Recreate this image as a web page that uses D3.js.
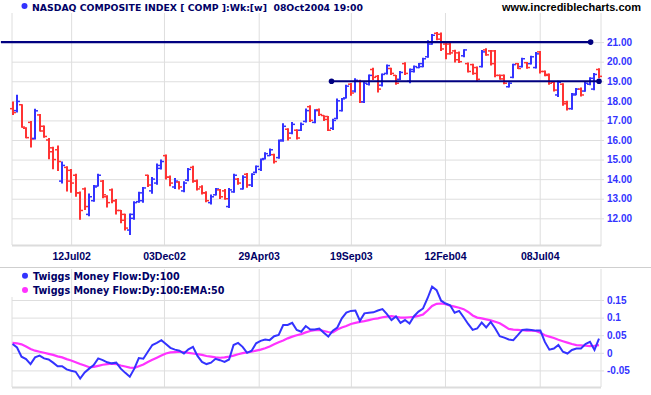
<!DOCTYPE html>
<html lang="en">
<head>
    <meta charset="UTF-8">
    <title>NASDAQ Composite weekly</title>
    <script src="https://cdn.jsdelivr.net/npm/d3@7"></script>
    <style>
        html, body {
            margin: 0;
            background: #fff;
        }

        svg text {
            font-family: "Liberation Sans", Arial, sans-serif;
            font-weight: bold;
        }

        svg text.wide {
            font-family: "DejaVu Sans", Verdana, sans-serif;
        }

        .axis path {
            display: none;
        }

        .axis line {
            stroke: #dedede;
        }
    </style>
</head>
<body>
<svg id="chart" width="651" height="395"></svg>

<script>

    // weekly bars, one every friday starting here
    var firstWeek = "2002-04-12";

    var opens = [
        17.6, 17.5, 17.8, 16.6, 16.9, 16.08, 17.28, 16.7, 16.0, 15.6,
        15.5, 13.9, 14.6, 14.45, 14.2, 13.3, 13.5, 12.2, 12.9, 13.65,
        13.9, 13.1, 13.45, 12.9, 12.4, 12.2, 11.4, 12.0, 12.85, 12.9,
        14.2, 13.4, 13.8, 14.55, 15.2, 14.1, 13.6, 13.85, 13.4, 13.95,
        14.6, 13.9, 13.6, 13.3, 12.8, 13.2, 13.45, 13.4, 12.6, 13.35,
        14.0, 13.5, 14.25, 13.7, 14.35, 14.5, 15.05, 15.2, 15.25, 15.1,
        16.0, 16.55, 16.35, 16.5, 16.5, 16.95, 17.7, 16.9, 17.55, 17.25,
        17.2, 16.6, 17.1, 17.5, 18.15, 18.85, 18.5, 19.0, 17.95, 18.85,
        19.6, 19.25, 18.8, 19.4, 19.65, 19.3, 19.1, 19.9, 19.0, 19.5,
        19.7, 19.75, 20.25, 20.9, 21.45, 21.4, 20.9, 20.9, 20.55, 20.45,
        20.3, 19.9, 19.85, 19.7, 19.75, 20.6, 20.55, 20.55, 19.3, 19.3,
        18.72, 19.2, 19.9, 19.75, 19.95, 19.9, 19.7, 20.5, 19.5, 19.35,
        18.95, 18.3, 18.85, 17.95, 17.6, 18.3, 18.6, 18.5, 18.85, 18.6,
        19.6
    ];
    var highs = [
        17.97, 18.31, 17.83, 16.65, 16.97, 17.59, 17.33, 16.74, 16.1, 15.65,
        15.72, 14.9, 14.66, 14.52, 14.27, 13.37, 13.57, 13.27, 13.7, 14.28,
        13.95, 13.18, 13.52, 12.98, 12.43, 12.23, 12.25, 12.87, 13.35, 13.6,
        14.23, 14.11, 14.8, 15.0, 15.26, 14.18, 14.06, 13.89, 13.89, 14.57,
        14.69, 13.98, 13.69, 13.38, 13.21, 13.55, 13.5, 13.5, 13.55, 14.28,
        14.06, 14.2, 14.32, 14.3, 14.7, 15.06, 15.38, 15.56, 15.3, 16.03,
        16.85, 16.6, 16.92, 16.55, 16.89, 17.61, 17.78, 17.57, 17.61, 17.27,
        17.23, 17.09, 18.12, 18.14, 18.82, 18.91, 19.15, 19.08, 18.98, 19.35,
        19.69, 19.32, 19.4, 19.86, 19.69, 19.32, 19.52, 19.97, 19.65, 19.8,
        19.93, 20.2, 21.1, 21.42, 21.52, 21.49, 20.95, 20.95, 20.61, 20.52,
        20.64, 19.96, 19.9, 19.76, 20.6, 20.68, 20.6, 20.6, 19.35, 19.35,
        18.95, 19.9, 19.93, 20.2, 19.98, 20.3, 20.5, 20.55, 19.55, 19.4,
        19.0, 19.03, 18.9, 18.0, 18.4, 18.65, 18.68, 18.97, 19.2, 19.42,
        19.67
    ];
    var lows = [
        17.28, 17.4, 16.63, 16.09, 15.61, 16.03, 16.43, 16.12, 15.02, 14.5,
        14.42, 13.78, 13.37, 13.3, 13.1, 11.93, 12.42, 12.1, 12.85, 13.63,
        13.03, 12.55, 12.77, 12.2, 11.75, 11.38, 11.15, 11.93, 12.79, 12.79,
        13.6, 13.26, 13.72, 14.49, 13.98, 13.64, 13.5, 13.47, 13.33, 13.89,
        13.81, 13.42, 13.21, 12.82, 12.7, 13.16, 12.99, 12.95, 12.53, 13.3,
        13.72, 13.47, 13.56, 13.6, 14.3, 14.41, 15.0, 15.18, 14.8, 15.04,
        15.91, 15.98, 16.29, 16.03, 16.46, 16.89, 16.92, 16.85, 17.23, 16.97,
        16.46, 16.51, 17.06, 17.45, 18.12, 18.26, 18.43, 17.89, 17.89, 18.78,
        19.07, 18.43, 18.73, 19.35, 19.32, 18.82, 19.07, 19.32, 18.9, 19.45,
        19.67, 19.72, 20.2, 20.86, 21.1, 20.55, 20.13, 20.35, 19.96, 19.93,
        20.23, 19.45, 19.33, 18.99, 19.7, 20.3, 19.8, 19.2, 19.08, 18.85,
        18.68, 19.15, 19.62, 19.7, 19.64, 19.85, 19.65, 19.4, 19.25, 18.82,
        18.48, 18.2, 17.75, 17.51, 17.55, 18.28, 18.22, 18.46, 18.8, 18.54,
        19.15
    ];
    var closes = [
        17.4, 17.97, 16.66, 16.12, 16.05, 17.49, 16.46, 16.18, 15.4, 15.0,
        14.9, 14.7, 13.9, 13.8, 13.3, 12.4, 12.6, 13.1, 13.6, 14.2,
        13.2, 12.8, 12.9, 12.4, 11.9, 11.5, 12.2, 12.8, 13.3, 13.55,
        13.7, 14.0, 14.7, 14.9, 14.1, 13.8, 13.9, 13.6, 13.8, 14.5,
        13.9, 13.5, 13.3, 12.9, 13.1, 13.5, 13.1, 13.0, 13.45, 14.2,
        13.8, 14.1, 13.7, 14.25, 14.65, 15.0, 15.3, 15.5, 14.9, 15.95,
        16.7, 16.1, 16.8, 16.1, 16.8, 17.5, 17.0, 17.5, 17.3, 17.05,
        16.5, 17.0, 18.0, 18.1, 18.75, 18.4, 19.05, 17.95, 18.9, 19.3,
        19.2, 18.6, 19.35, 19.8, 19.4, 18.9, 19.45, 19.4, 19.6, 19.75,
        19.9, 20.15, 21.0, 21.35, 21.15, 20.65, 20.4, 20.45, 20.1, 20.0,
        20.6, 19.5, 19.4, 19.1, 20.5, 20.35, 19.9, 19.3, 19.12, 18.9,
        18.9, 19.85, 19.65, 20.15, 19.7, 20.25, 20.4, 19.5, 19.3, 18.9,
        18.55, 18.95, 17.85, 17.6, 18.35, 18.6, 18.3, 18.9, 19.15, 19.35,
        19.25
    ];

    // Twiggs money flow (read once per week) and its 50 EMA
    var moneyFlow = [
        0.025, 0.015, -0.011, -0.018, -0.032, -0.013, -0.008, -0.016, -0.019, -0.028,
        -0.038, -0.038, -0.047, -0.051, -0.054, -0.073, -0.056, -0.045, -0.035, -0.016,
        -0.021, -0.027, -0.030, -0.028, -0.045, -0.057, -0.068, -0.045, -0.015, -0.017,
        0.003, 0.022, 0.028, 0.036, 0.025, 0.014, 0.009, 0.006, -0.002, 0.010,
        0.017, -0.009, -0.026, -0.032, -0.028, -0.017, -0.021, -0.026, -0.019, 0.022,
        0.028, 0.017, 0.000, 0.006, 0.027, 0.034, 0.038, 0.036, 0.047, 0.051,
        0.079, 0.079, 0.085, 0.065, 0.060, 0.076, 0.066, 0.066, 0.069, 0.057,
        0.046, 0.063, 0.072, 0.098, 0.114, 0.119, 0.120, 0.091, 0.112, 0.114,
        0.115, 0.120, 0.124, 0.110, 0.093, 0.103, 0.085, 0.093, 0.083, 0.104,
        0.117, 0.126, 0.155, 0.188, 0.178, 0.148, 0.140, 0.135, 0.114, 0.119,
        0.101, 0.082, 0.065, 0.069, 0.086, 0.072, 0.088, 0.069, 0.047, 0.043,
        0.038, 0.036, 0.050, 0.065, 0.066, 0.065, 0.063, 0.063, 0.031, 0.009,
        0.012, 0.022, 0.003, -0.002, 0.008, 0.012, 0.012, 0.025, 0.031, 0.008,
        0.040
    ];
    var moneyFlowEma = [
        0.028, 0.027, 0.024, 0.018, 0.011, 0.006, 0.003, 0.000, -0.003, -0.006,
        -0.010, -0.013, -0.018, -0.022, -0.027, -0.032, -0.036, -0.041, -0.040, -0.037,
        -0.034, -0.032, -0.031, -0.032, -0.036, -0.039, -0.042, -0.043, -0.038, -0.033,
        -0.026, -0.020, -0.014, -0.008, -0.002, 0.001, 0.002, 0.003, 0.002, 0.000,
        -0.002, -0.004, -0.006, -0.009, -0.011, -0.013, -0.014, -0.013, -0.011, -0.008,
        -0.004, -0.001, 0.001, 0.003, 0.006, 0.009, 0.013, 0.018, 0.024, 0.030,
        0.035, 0.041, 0.046, 0.050, 0.053, 0.058, 0.062, 0.064, 0.065, 0.062,
        0.059, 0.058, 0.066, 0.072, 0.076, 0.082, 0.085, 0.088, 0.090, 0.093,
        0.096, 0.098, 0.101, 0.103, 0.104, 0.102, 0.100, 0.100, 0.101, 0.102,
        0.105, 0.109, 0.120, 0.133, 0.139, 0.140, 0.138, 0.134, 0.131, 0.128,
        0.124, 0.116, 0.106, 0.100, 0.098, 0.095, 0.092, 0.088, 0.084, 0.076,
        0.068, 0.066, 0.065, 0.064, 0.063, 0.063, 0.062, 0.057, 0.050, 0.046,
        0.042, 0.037, 0.033, 0.029, 0.025, 0.022, 0.021, 0.020, 0.019, 0.020,
        0.022
    ];

    var dateLabels = ["12Jul02", "03Dec02", "29Apr03", "19Sep03", "12Feb04", "08Jul04"];
    var priceTicks = [12, 13, 14, 15, 16, 17, 18, 19, 20, 21];
    var flowTicks = [-0.05, 0, 0.05, 0.1, 0.15];

    // support / resistance lines drawn on the price panel
    var levelLines = [
        {from: "2002-03-25", to: "2004-09-25", value: 21, startDot: false},
        {from: "2003-08-20", to: "2004-10-08", value: 19, startDot: true}
    ];

    var blue = '#3333ff', red = '#ff3333', navy = '#000080', magenta = '#ff33ff';

    var parseDay = d3.timeParse("%Y-%m-%d");
    var parseLabel = d3.timeParse("%d%b%y");
    var start = parseDay(firstWeek);
    var weeks = opens.map(function (d, i) {
        return d3.timeWeek.offset(start, i);
    });
    var labelDates = dateLabels.map(parseLabel);

    var svg = d3.select('#chart');
    var left = 12, right = 601;

    var x = d3.scaleTime()
        .domain([weeks[0], weeks[weeks.length - 1]])
        .range([12.5, 599]);

    var yPrice = d3.scaleLinear().domain([12, 21]).range([218.3, 42.1]);
    var yFlow = d3.scaleLinear().domain([-0.05, 0.15]).range([370.4, 300]);

    // ---------- price panel ----------
    var pricePanel = svg.append('g');

    pricePanel.append('g').attr('class', 'axis')
        .attr('transform', 'translate(0,245)')
        .call(d3.axisBottom(x).tickValues(labelDates).tickSizeInner(-232).tickSizeOuter(0).tickPadding(8)
            .tickFormat(function (d, i) {
                return dateLabels[i];
            }))
        .selectAll('text').attr('fill', '#000066').style('font-size', '10.5px');

    pricePanel.append('g').attr('class', 'axis')
        .attr('transform', 'translate(604,0)')
        .call(d3.axisRight(yPrice).tickValues(priceTicks).tickSizeInner(-(604 - left)).tickSizeOuter(0).tickPadding(3)
            .tickFormat(d3.format('.2f')))
        .selectAll('text').attr('fill', blue).style('font-size', '10px');

    // panel borders
    pricePanel.append('line').attr('x1', left).attr('x2', left).attr('y1', 13).attr('y2', 245).attr('stroke', '#dedede');
    pricePanel.append('line').attr('x1', right).attr('x2', right).attr('y1', 13).attr('y2', 246).attr('stroke', '#dedede');
    pricePanel.append('line').attr('x1', left).attr('x2', right).attr('y1', 245.5).attr('y2', 245.5)
        .attr('stroke', '#dcdcdc').attr('stroke-width', 2);

    // OHLC bars
    var bar = pricePanel.append('g').selectAll('g').data(weeks).enter().append('g')
        .attr('stroke', function (d, i) {
            return closes[i] >= opens[i] ? blue : red;
        });
    bar.append('line')
        .attr('x1', function (d) { return Math.round(x(d)); })
        .attr('x2', function (d) { return Math.round(x(d)); })
        .attr('y1', function (d, i) { return yPrice(highs[i]); })
        .attr('y2', function (d, i) { return yPrice(lows[i]); })
        .attr('stroke-width', 2);
    bar.append('line')
        .attr('x1', function (d) { return Math.round(x(d)) - 3; })
        .attr('x2', function (d) { return Math.round(x(d)); })
        .attr('y1', function (d, i) { return yPrice(opens[i]); })
        .attr('y2', function (d, i) { return yPrice(opens[i]); })
        .attr('stroke-width', 1.5);
    bar.append('line')
        .attr('x1', function (d) { return Math.round(x(d)); })
        .attr('x2', function (d) { return Math.round(x(d)) + 3; })
        .attr('y1', function (d, i) { return yPrice(closes[i]); })
        .attr('y2', function (d, i) { return yPrice(closes[i]); })
        .attr('stroke-width', 1.5);

    // level lines
    levelLines.forEach(function (l) {
        var x1 = x(parseDay(l.from)), x2 = x(parseDay(l.to)), y = yPrice(l.value);
        pricePanel.append('line').attr('x1', x1).attr('x2', x2).attr('y1', y).attr('y2', y)
            .attr('stroke', navy).attr('stroke-width', 2.2);
        pricePanel.append('circle').attr('cx', x2).attr('cy', y).attr('r', 2.8).attr('fill', navy);
        if (l.startDot) {
            pricePanel.append('circle').attr('cx', x1).attr('cy', y).attr('r', 2.8).attr('fill', navy);
        }
    });

    // title + site
    svg.append('circle').attr('cx', 24.5).attr('cy', 6).attr('r', 3).attr('fill', blue);
    svg.append('text').attr('class', 'wide').attr('x', 32).attr('y', 10.5).attr('fill', '#000066')
        .style('font-size', '9.3px').style('white-space', 'pre')
        .text('NASDAQ COMPOSITE INDEX [ COMP ]:Wk:[w]  08Oct2004 19:00');
    svg.append('text').attr('x', 641).attr('y', 10.5).attr('text-anchor', 'end').attr('fill', '#000')
        .style('font-size', '11px')
        .text('www.incrediblecharts.com');

    // separator between panels
    svg.append('line').attr('x1', 0).attr('x2', 651).attr('y1', 267.5).attr('y2', 267.5).attr('stroke', '#cfcfcf');

    // ---------- money flow panel ----------
    var flowPanel = svg.append('g');

    flowPanel.append('g').attr('class', 'axis')
        .attr('transform', 'translate(0,387)')
        .call(d3.axisBottom(x).tickValues(labelDates).tickSizeInner(-118).tickSizeOuter(0).tickFormat(''));

    var flowAxis = flowPanel.append('g').attr('class', 'axis')
        .attr('transform', 'translate(604,0)')
        .call(d3.axisRight(yFlow).tickValues(flowTicks).tickSizeInner(-(604 - left)).tickSizeOuter(0).tickPadding(3)
            .tickFormat(function (d) {
                return String(d);
            }));
    flowAxis.selectAll('text').attr('fill', blue).style('font-size', '10px');
    flowAxis.selectAll('.tick').filter(function (d) {
        return d === 0;
    }).select('line').attr('stroke', '#9999cc');

    flowPanel.append('line').attr('x1', left).attr('x2', left).attr('y1', 297).attr('y2', 387).attr('stroke', '#dedede');
    flowPanel.append('line').attr('x1', right).attr('x2', right).attr('y1', 269).attr('y2', 387).attr('stroke', '#dedede');
    flowPanel.append('line').attr('x1', left).attr('x2', right).attr('y1', 387.5).attr('y2', 387.5)
        .attr('stroke', '#dcdcdc').attr('stroke-width', 2);

    var flowLine = function (values) {
        return d3.line()
            .x(function (d) { return x(d); })
            .y(function (d, i) { return yFlow(values[i]); })(weeks);
    };

    flowPanel.append('path').attr('d', flowLine(moneyFlowEma))
        .attr('fill', 'none').attr('stroke', magenta).attr('stroke-width', 2.2);
    flowPanel.append('path').attr('d', flowLine(moneyFlow))
        .attr('fill', 'none').attr('stroke', blue).attr('stroke-width', 2);

    // legend
    var legend = [
        {name: 'Twiggs Money Flow:Dy:100', color: blue},
        {name: 'Twiggs Money Flow:Dy:100:EMA:50', color: magenta}
    ];
    legend.forEach(function (l, i) {
        flowPanel.append('circle').attr('cx', 25).attr('cy', 275.7 + i * 14.3).attr('r', 3).attr('fill', l.color);
        flowPanel.append('text').attr('class', 'wide').attr('x', 33).attr('y', 279.5 + i * 14.3).attr('fill', '#000066')
            .style('font-size', '9.6px').text(l.name);
    });

</script>
</body>
</html>
